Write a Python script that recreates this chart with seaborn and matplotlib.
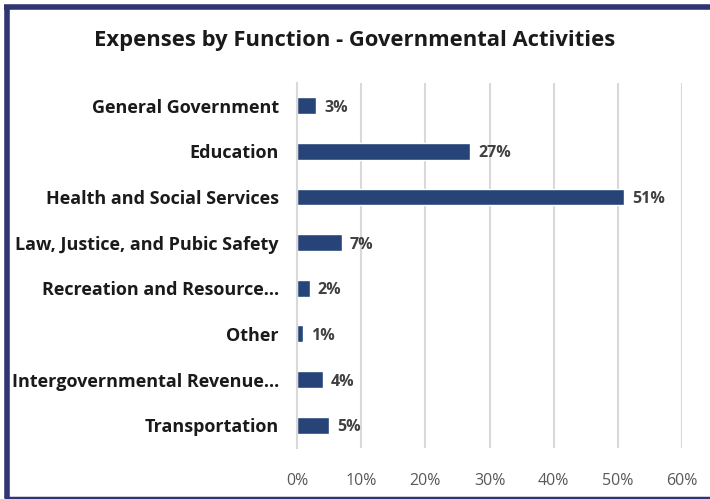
import matplotlib
matplotlib.use("Agg")
import matplotlib.pyplot as plt
import seaborn as sns
import pandas as pd
from matplotlib.ticker import PercentFormatter

categories = [
    "General Government",
    "Education",
    "Health and Social Services",
    "Law, Justice, and Pubic Safety",
    "Recreation and Resource…",
    "Other",
    "Intergovernmental Revenue…",
    "Transportation",
]
values = [3, 27, 51, 7, 2, 1, 4, 5]
x_ticks = [0, 10, 20, 30, 40, 50, 60]

sns.set_theme(style="white")
plt.rcParams["font.family"] = ["Open Sans", "DejaVu Sans"]

df = pd.DataFrame({"category": categories, "value": values})

fig = plt.figure(figsize=(7.10, 4.99), dpi=100)
ax = fig.add_axes([0.4183, 0.1022, 0.5423, 0.7315])

sns.barplot(data=df, x="value", y="category", orient="h", color="#264478",
            width=0.37, saturation=1, ax=ax)

ax.set_xlim(0, 60)
ax.set_xticks(x_ticks)
ax.xaxis.set_major_formatter(PercentFormatter(decimals=0))
ax.grid(axis="x", color="#d9d9d9", linewidth=1.5)
ax.set_axisbelow(True)
for s in ["top", "right", "bottom"]:
    ax.spines[s].set_visible(False)
ax.spines["left"].set_color("#d9d9d9")
ax.spines["left"].set_linewidth(1.5)
ax.set_xlabel("")
ax.set_ylabel("")
ax.tick_params(axis="x", length=0, pad=18, labelsize=11.5, labelcolor="#595959")
ax.tick_params(axis="y", length=0, pad=13, labelsize=13)
for lab in ax.get_yticklabels():
    lab.set_fontweight("bold")
    lab.set_color("#1a1a1a")

for i, v in enumerate(values):
    ax.text(v + 1.2, i, f"{v}%", va="center_baseline", ha="left", fontsize=11.5,
            fontweight="bold", color="#404040")

fig.text(0.5, 0.918, "Expenses by Function - Governmental Activities",
         ha="center", va="center", fontsize=15.8, fontweight="bold", color="#1a1a1a")

# frame (left, top, bottom)
c = "#2f3571"
fig.add_artist(plt.Line2D([0.0092, 0.0092], [0.003, 0.9855], color=c, linewidth=4,
                          solid_capstyle="butt", transform=fig.transFigure))
fig.add_artist(plt.Line2D([0.0053, 1.0], [0.9855, 0.9855], color=c, linewidth=4,
                          solid_capstyle="butt", transform=fig.transFigure))
fig.add_artist(plt.Line2D([0.0053, 1.0], [0.003, 0.003], color=c, linewidth=2.5,
                          solid_capstyle="butt", transform=fig.transFigure))

fig.savefig("out.png", dpi=100)
